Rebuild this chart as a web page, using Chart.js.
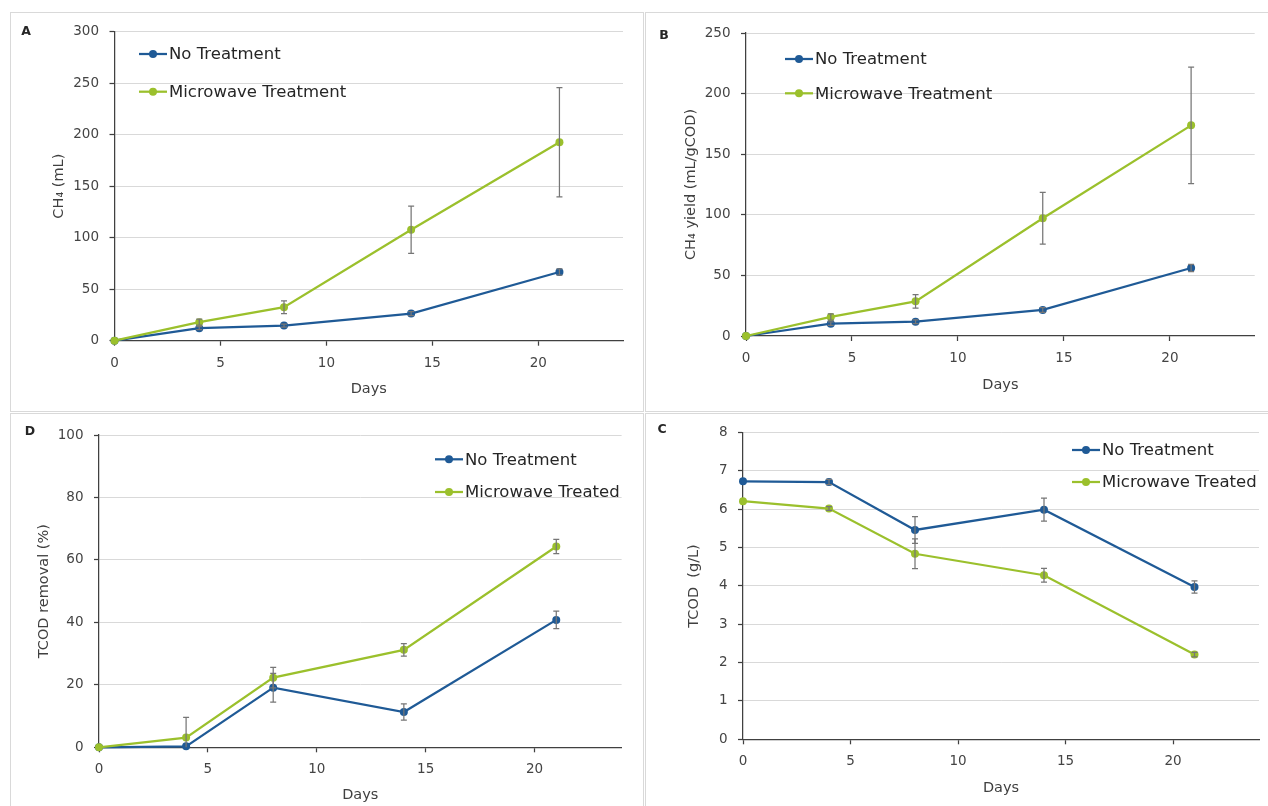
<!DOCTYPE html>
<html>
<head>
<meta charset="utf-8">
<script src="https://cdn.jsdelivr.net/npm/chart.js@4.4.1/dist/chart.umd.min.js"></script>
<style>
body{margin:0;background:#fff;width:1268px;height:806px;overflow:hidden;position:relative;font-family:"DejaVu Sans",sans-serif}
.frame{position:absolute;border:1px solid #d9d9d9;box-sizing:border-box}
canvas{position:absolute}
.tag{position:absolute;font-weight:bold;font-size:12.5px;color:#262626;transform:translate(-50%,-50%);line-height:1}
</style>
</head>
<body>
<div class="frame" style="left:10px;top:12px;width:634px;height:400px"></div>
<div class="frame" style="left:645px;top:12px;width:640px;height:400px"></div>
<div class="frame" style="left:10px;top:413px;width:634px;height:400px"></div>
<div class="frame" style="left:645px;top:413px;width:640px;height:400px"></div>

<canvas id="chartA" width="632" height="398" style="left:11px;top:13px"></canvas>
<canvas id="chartB" width="621" height="398" style="left:647px;top:13px"></canvas>
<canvas id="chartD" width="632" height="392" style="left:11px;top:414px"></canvas>
<canvas id="chartC" width="621" height="392" style="left:647px;top:414px"></canvas>

<span class="tag" style="left:26px;top:31px">A</span>
<span class="tag" style="left:664px;top:35px">B</span>
<span class="tag" style="left:30px;top:431px">D</span>
<span class="tag" style="left:662px;top:429px">C</span>

<script>
const days = [0, 4, 8, 14, 21];

// A - cumulative methane
const ch4NoTreat = [0, 12.2, 14.7, 26.3, 66.7];
const ch4NoTreatErr = [0, 1.5, 1.5, 2, 3];
const ch4Micro = [0, 18, 32.5, 107.7, 192.6];
const ch4MicroErr = [0, 3, 6.2, 23, 53];

// B - methane yield
const yieldNoTreat = [0, 10.2, 11.8, 21.5, 56.1];
const yieldNoTreatErr = [0, 1.5, 1.5, 2, 3];
const yieldMicro = [0, 15.7, 28.6, 97.1, 173.8];
const yieldMicroErr = [0, 2.5, 5.5, 21.3, 48];

// D - TCOD removal
const removalNoTreat = [0, 0.3, 19.1, 11.3, 40.8];
const removalNoTreatErr = [0, 0, 4.6, 2.6, 2.8];
const removalMicro = [0, 3.1, 22.3, 31.2, 64.3];
const removalMicroErr = [0, 6.5, 3.3, 2, 2.3];

// C - TCOD
const tcodNoTreat = [6.73, 6.71, 5.46, 5.99, 3.97];
const tcodNoTreatErr = [0, 0.07, 0.35, 0.3, 0.16];
const tcodMicro = [6.21, 6.02, 4.84, 4.28, 2.21];
const tcodMicroErr = [0, 0.05, 0.39, 0.18, 0.06];

const BLUE = '#1f5a96';
const GREEN = '#9bc02c';
const AXIS = '#404040';

Chart.defaults.font.family = '"DejaVu Sans", sans-serif';

const errorBars = {
  id: 'errorBars',
  afterDatasetsDraw(chart) {
    const {ctx, chartArea, scales} = chart;
    ctx.save();
    ctx.beginPath();
    ctx.rect(chartArea.left, chartArea.top, chartArea.width, chartArea.height);
    ctx.clip();
    ctx.strokeStyle = '#767676';
    ctx.lineWidth = 1.25;
    chart.data.datasets.forEach(ds => {
      ds.data.forEach((pt, i) => {
        const e = ds.errors[i];
        if (!e) return;
        const x = scales.x.getPixelForValue(pt.x);
        const y1 = scales.y.getPixelForValue(pt.y + e);
        const y2 = scales.y.getPixelForValue(pt.y - e);
        ctx.beginPath();
        ctx.moveTo(x, y1); ctx.lineTo(x, y2);
        ctx.moveTo(x - 3, y1); ctx.lineTo(x + 3, y1);
        ctx.moveTo(x - 3, y2); ctx.lineTo(x + 3, y2);
        ctx.stroke();
      });
    });
    ctx.restore();
  }
};

const insetLegend = {
  id: 'insetLegend',
  afterDraw(chart, args, opts) {
    const ctx = chart.ctx;
    ctx.save();
    ctx.font = '16.5px "DejaVu Sans"';
    ctx.textBaseline = 'middle';
    chart.data.datasets.forEach((ds, i) => {
      const y = opts.y + i * opts.dy;
      ctx.strokeStyle = ds.borderColor;
      ctx.lineWidth = 2.25;
      ctx.beginPath();
      ctx.moveTo(opts.x, y);
      ctx.lineTo(opts.x + opts.len, y);
      ctx.stroke();
      ctx.fillStyle = ds.borderColor;
      ctx.beginPath();
      ctx.arc(opts.x + opts.len / 2, y, 4, 0, Math.PI * 2);
      ctx.fill();
      ctx.fillStyle = '#262626';
      ctx.fillText(ds.label, opts.x + opts.len + 2, y + 1);
    });
    ctx.restore();
  }
};

function series(label, values, errs, color, order) {
  return {
    label: label,
    data: days.map((d, i) => ({x: d, y: values[i]})),
    errors: errs,
    borderColor: color,
    backgroundColor: color,
    pointBackgroundColor: color,
    pointBorderWidth: 0,
    pointRadius: 4,
    pointHoverRadius: 4,
    borderWidth: 2.25,
    tension: 0,
    clip: false,
    order: order
  };
}

function drawPanel(id, p) {
  new Chart(document.getElementById(id), {
    type: 'line',
    data: {
      datasets: [
        series('No Treatment', p.noTreat, p.noTreatErr, BLUE, 1),
        series(p.microLabel, p.micro, p.microErr, GREEN, 0)
      ]
    },
    options: {
      responsive: false,
      animation: false,
      events: [],
      layout: {padding: {top: p.top, right: p.right, left: 0, bottom: 0}},
      plugins: {
        legend: {display: false},
        tooltip: {enabled: false},
        insetLegend: p.legend
      },
      scales: {
        x: {
          type: 'linear',
          min: 0,
          max: 24,
          afterBuildTicks: s => { s.ticks = s.ticks.filter(t => t.value % 5 === 0); },
          ticks: {stepSize: 5, includeBounds: false, color: '#444', font: {size: 13.5}, padding: 9.5, maxRotation: 0},
          grid: {drawOnChartArea: false, tickLength: 5, tickColor: AXIS, tickWidth: 1.25},
          border: {color: AXIS, width: 1.25},
          title: {display: true, text: 'Days', color: AXIS, font: {size: 14.5}, padding: {top: 0, bottom: p.daysPad}},
          afterFit(s) { s.height = p.xH; }
        },
        y: {
          min: 0,
          max: p.yMax,
          ticks: {stepSize: p.yStep, color: '#444', font: {size: 13.5}, padding: 10.5},
          grid: {
            color: c => (c.tick && c.tick.value === 0) ? 'rgba(0,0,0,0)' : '#d9d9d9',
            tickColor: AXIS,
            tickLength: 5,
            tickWidth: 1.25
          },
          border: {color: AXIS, width: 1.25},
          title: {display: true, text: p.yTitle, color: AXIS, font: {size: 14.5}, padding: {top: p.yTitlePad, bottom: 0}},
          afterFit(s) { s.width = p.yW; }
        }
      }
    },
    plugins: [errorBars, insetLegend]
  });
}

drawPanel('chartA', {
  noTreat: ch4NoTreat, noTreatErr: ch4NoTreatErr,
  micro: ch4Micro, microErr: ch4MicroErr, microLabel: 'Microwave Treatment',
  yMax: 300, yStep: 50, yTitle: 'CH\u2084 (mL)',
  top: 16.3, right: 20, yW: 103.5, xH: 70.3, yTitlePad: 39.3, daysPad: 13,
  legend: {x: 128, y: 41, dy: 37.7, len: 28}
});

drawPanel('chartB', {
  noTreat: yieldNoTreat, noTreatErr: yieldNoTreatErr,
  micro: yieldMicro, microErr: yieldMicroErr, microLabel: 'Microwave Treatment',
  yMax: 250, yStep: 50, yTitle: 'CH\u2084 yield (mL/gCOD)',
  top: 20, right: 13.3, yW: 99, xH: 75, yTitlePad: 35.6, daysPad: 17.3,
  legend: {x: 138, y: 46, dy: 34.3, len: 28}
});

drawPanel('chartD', {
  noTreat: removalNoTreat, noTreatErr: removalNoTreatErr,
  micro: removalMicro, microErr: removalMicroErr, microLabel: 'Microwave Treated',
  yMax: 100, yStep: 20, yTitle: 'TCOD removal (%)',
  top: 21, right: 21.4, yW: 88, xH: 58.7, yTitlePad: 24.2, daysPad: 1.6,
  legend: {x: 424, y: 45.3, dy: 32.7, len: 28}
});

drawPanel('chartC', {
  noTreat: tcodNoTreat, noTreatErr: tcodNoTreatErr,
  micro: tcodMicro, microErr: tcodMicroErr, microLabel: 'Microwave Treated',
  yMax: 8, yStep: 1, yTitle: 'TCOD  (g/L)',
  top: 16.7, right: 9, yW: 96, xH: 66.7, yTitlePad: 38.3, daysPad: 9,
  legend: {x: 425, y: 36, dy: 32, len: 28}
});
</script>
</body>
</html>
